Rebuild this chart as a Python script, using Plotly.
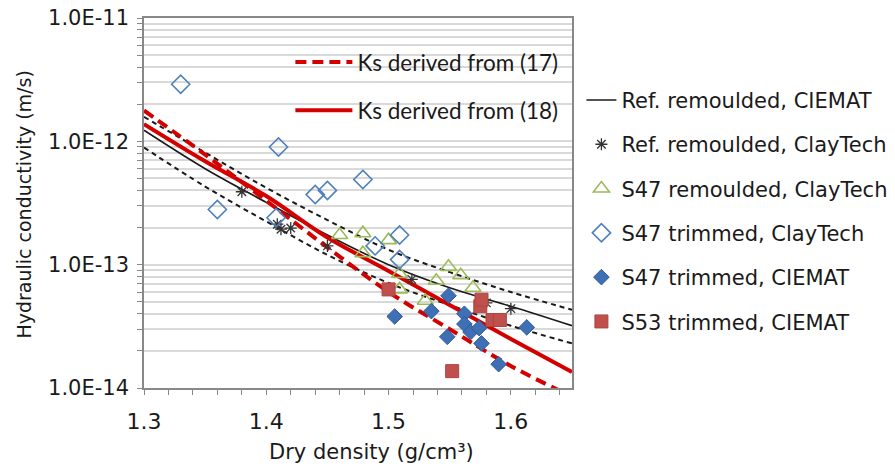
import plotly.graph_objects as go

# fitted curves at these dry densities (g/cm3)
rho_fit = [1.30, 1.35, 1.40, 1.45, 1.50, 1.55, 1.60, 1.65]
k_ciemat = [1.23e-12, 6.0e-13, 3.2e-13, 1.74e-13, 1.0e-13, 6.5e-14, 4.6e-14, 3.2e-14]
k_ciemat_hi = [1.58e-12, 8.1e-13, 4.2e-13, 2.3e-13, 1.32e-13, 8.7e-14, 6.0e-14, 4.3e-14]
k_ciemat_lo = [8.9e-13, 4.3e-13, 2.24e-13, 1.2e-13, 7.1e-14, 4.7e-14, 3.2e-14, 2.3e-14]
k_eq17 = [1.78e-12, 7.8e-13, 3.3e-13, 1.38e-13, 6.0e-14, 3.0e-14, 1.51e-14, 8.5e-15]
k_eq18 = [1.38e-12, 6.9e-13, 3.6e-13, 1.66e-13, 8.9e-14, 4.7e-14, 2.5e-14, 1.35e-14]

# measurements
ref_ct_rho = [1.380, 1.409, 1.412, 1.420, 1.450, 1.519, 1.580, 1.600]
ref_ct_k = [3.9e-13, 2.13e-13, 1.94e-13, 1.98e-13, 1.42e-13, 7.6e-14, 4.9e-14, 4.4e-14]

s47_rem_rho = [1.460, 1.479, 1.479, 1.500, 1.509, 1.509, 1.530, 1.539, 1.549, 1.559, 1.569]
s47_rem_k = [1.74e-13, 1.80e-13, 1.24e-13, 1.58e-13, 8.4e-14, 6.3e-14, 5.1e-14, 7.4e-14, 9.6e-14, 8.2e-14, 6.5e-14]

s47_trim_ct_rho = [1.330, 1.360, 1.408, 1.410, 1.440, 1.450, 1.479, 1.489, 1.509, 1.509]
s47_trim_ct_k = [2.9e-12, 2.8e-13, 2.4e-13, 9.0e-13, 3.7e-13, 4.0e-13, 4.9e-13, 1.42e-13, 1.74e-13, 1.1e-13]

s47_trim_ci_rho = [1.505, 1.535, 1.548, 1.549, 1.562, 1.562, 1.567, 1.574, 1.576, 1.590, 1.613]
s47_trim_ci_k = [3.8e-14, 4.2e-14, 2.6e-14, 5.6e-14, 4.0e-14, 3.3e-14, 2.84e-14, 3.06e-14, 2.3e-14, 1.56e-14, 3.1e-14]

s53_trim_ci_rho = [1.500, 1.552, 1.575, 1.576, 1.585, 1.591]
s53_trim_ci_k = [6.3e-14, 1.37e-14, 4.6e-14, 5.2e-14, 3.56e-14, 3.56e-14]

y_ticks = [1e-14, 1e-13, 1e-12, 1e-11]
y_labels = ["1.0E-14", "1.0E-13", "1.0E-12", "1.0E-11"]

RED = "#d40000"
fig = go.Figure()

# CIEMAT band (dashed) + fit
for k in (k_ciemat_hi, k_ciemat_lo):
    fig.add_trace(go.Scatter(x=rho_fit, y=k, mode="lines", line_shape="spline", showlegend=False,
                             line=dict(color="#1a1a1a", width=2, dash="5px,4px")))
fig.add_trace(go.Scatter(x=rho_fit, y=k_ciemat, mode="lines", line_shape="spline",
                         name="Ref. remoulded, CIEMAT", legend="legend2", legendgroup="a",
                         line=dict(color="#1a1a1a", width=1.6)))
fig.add_trace(go.Scatter(x=rho_fit, y=k_eq17, mode="lines", line_shape="spline",
                         name="Ks derived from (17)", legend="legend", legendgroup="k17",
                         line=dict(color=RED, width=4, dash="11px,6px")))
fig.add_trace(go.Scatter(x=rho_fit, y=k_eq18, mode="lines", line_shape="spline",
                         name="Ks derived from (18)", legend="legend", legendgroup="k18",
                         line=dict(color=RED, width=4)))

pts = [
    ("Ref. remoulded, ClayTech", ref_ct_rho, ref_ct_k, "asterisk-open", 10, "#333333", "#333333", 1.3),
    ("S47 remoulded, ClayTech", s47_rem_rho, s47_rem_k, "triangle-up-open", 14, "#9bbb59", "#9bbb59", 1.6),
    ("S47 trimmed, ClayTech", s47_trim_ct_rho, s47_trim_ct_k, "diamond-open", 14, "#4f81bd", "#4f81bd", 1.6),
    ("S47 trimmed, CIEMAT", s47_trim_ci_rho, s47_trim_ci_k, "diamond", 12, "#3f70b5", "#2f5c99", 1),
    ("S53 trimmed, CIEMAT", s53_trim_ci_rho, s53_trim_ci_k, "square", 13, "#c0504d", "#b04440", 1),
]
for i, (name, xs, ys, sym, size, col, lcol, lw) in enumerate(pts):
    fig.add_trace(go.Scatter(x=xs, y=ys, mode="markers", name=name, legend="legend2",
                             legendgroup=f"p{i}",
                             marker=dict(symbol=sym, size=size, color=col, line=dict(color=lcol, width=lw))))

FONT = "DejaVu Sans"
# the page body adds an 8px margin, so top/left margins are 8px smaller than in the picture
fig.update_layout(
    width=895, height=471, margin=dict(l=136, r=328, t=10, b=91),
    paper_bgcolor="white", plot_bgcolor="white",
    font=dict(family=FONT, size=20, color="#1a1a1a"),
    legend=dict(x=0.342, y=0.938, xanchor="left", yanchor="top", bgcolor="rgba(0,0,0,0)",
                font=dict(family="Lato", size=22.5), traceorder="grouped", tracegroupgap=16,
                itemwidth=57),
    legend2=dict(x=1.022, y=0.833, xanchor="left", yanchor="top", bgcolor="rgba(0,0,0,0)",
                 font=dict(family=FONT, size=21), traceorder="grouped", tracegroupgap=14),
    annotations=[
        dict(text="Dry density (g/cm³)", xref="paper", yref="paper", x=0.531, y=-0.173,
             xanchor="center", yanchor="middle", showarrow=False, font=dict(size=21)),
        dict(text="Hydraulic conductivity (m/s)", xref="paper", yref="paper", x=-0.281, y=0.495,
             xanchor="center", yanchor="middle", textangle=-90, showarrow=False, font=dict(size=19)),
    ],
)
fig.update_xaxes(range=[1.3, 1.65], dtick=0.1, tick0=1.3, tickformat=".1f", ticks="outside",
                 ticklen=5, tickcolor="#888888", showgrid=False, zeroline=False, automargin=False,
                 showline=True, linecolor="#888888", linewidth=1.5, mirror=True,
                 ticklabelstandoff=8, tickfont=dict(size=22), ticklabeloverflow="allow",
                 minor=dict(dtick=0.02, tick0=1.3, ticks="outside", ticklen=5, tickcolor="#888888"))
fig.update_yaxes(type="log", range=[-14, -11], tickvals=y_ticks, ticktext=y_labels, ticks="outside",
                 ticklen=5, tickcolor="#888888", showgrid=True, gridcolor="#d9d9d9", gridwidth=2,
                 showline=True, linecolor="#888888", linewidth=1.5, mirror=True, automargin=False,
                 ticklabelstandoff=4, zeroline=False, tickfont=dict(size=21), ticklabeloverflow="allow",
                 minor=dict(dtick="D1", ticks="outside", ticklen=5, tickcolor="#888888",
                            showgrid=True, gridcolor="#d9d9d9", gridwidth=2))

fig.write_html("out.html")
